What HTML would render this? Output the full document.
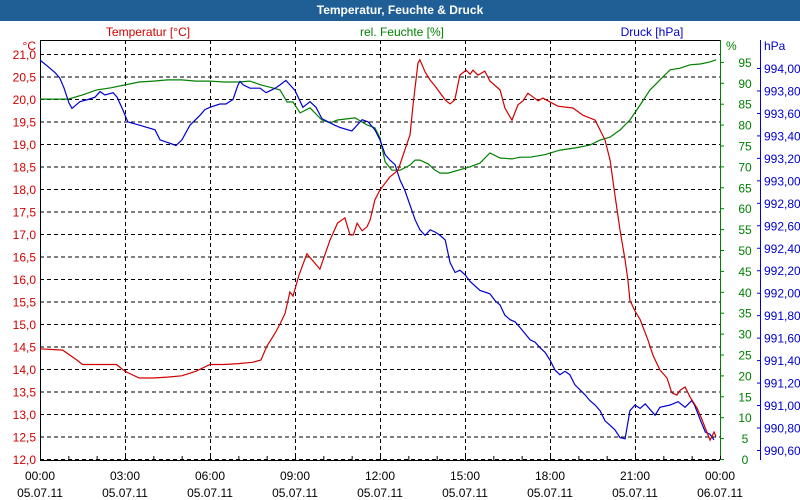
<!DOCTYPE html>
<html><head><meta charset="utf-8"><style>
body{margin:0;background:#fff;}
#wrap{position:relative;width:800px;height:500px;overflow:hidden;font-family:"Liberation Sans",sans-serif;}
#title{position:absolute;left:0;top:0;width:800px;height:21px;background:#1f5f96;color:#fff;font-weight:bold;font-size:12px;text-align:center;line-height:21px;}
svg{position:absolute;left:0;top:0;}
</style></head><body>
<div id="wrap">
<div id="title">Temperatur, Feuchte &amp; Druck</div>
<svg id="chart" width="800" height="500"></svg>
</div>
<script>
const timeTicks=["00:00","03:00","06:00","09:00","12:00","15:00","18:00","21:00","00:00"];
const dateTicks=["05.07.11","05.07.11","05.07.11","05.07.11","05.07.11","05.07.11","05.07.11","05.07.11","06.07.11"];
const tempTicks=[21,20.5,20,19.5,19,18.5,18,17.5,17,16.5,16,15.5,15,14.5,14,13.5,13,12.5,12];
const humTicks=[0,5,10,15,20,25,30,35,40,45,50,55,60,65,70,75,80,85,90,95];
const presTicks=[994,993.8,993.6,993.4,993.2,993,992.8,992.6,992.4,992.2,992,991.8,991.6,991.4,991.2,991,990.8,990.6];
const tempT=[0,0.8,1.3,1.5,2.7,3.0,3.5,4.0,4.5,5.0,5.5,6.0,6.5,7.0,7.5,7.8,8.0,8.3,8.47,8.65,8.82,8.93,9.14,9.42,9.88,10.24,10.5,10.76,10.94,11.06,11.19,11.37,11.54,11.65,11.82,12.0,12.35,12.64,12.88,13.06,13.17,13.34,13.41,13.59,13.77,13.94,14.3,14.47,14.64,14.82,15.04,15.18,15.28,15.46,15.7,15.88,16.24,16.41,16.59,16.66,16.87,17.05,17.22,17.58,17.75,18.28,18.81,19.16,19.59,19.77,19.94,20.12,20.29,20.47,20.65,20.75,20.82,21.0,21.18,21.46,21.64,21.88,22.13,22.3,22.48,22.59,22.77,22.94,23.19,23.37,23.51,23.65,23.79,23.86];
const tempV=[14.45,14.42,14.2,14.1,14.1,13.95,13.8,13.8,13.82,13.85,13.95,14.1,14.1,14.12,14.15,14.2,14.5,14.8,15.0,15.24,15.71,15.62,16.09,16.56,16.22,16.87,17.24,17.36,16.98,16.98,17.24,17.07,17.16,17.31,17.76,17.98,18.27,18.42,18.87,19.2,19.9,20.8,20.87,20.6,20.42,20.29,19.98,19.89,19.98,20.53,20.64,20.55,20.64,20.53,20.62,20.4,20.2,19.8,19.6,19.53,19.87,19.96,20.13,19.96,20.02,19.84,19.8,19.64,19.53,19.31,19.09,18.64,17.87,17.09,16.42,15.98,15.53,15.29,15.1,14.64,14.3,13.98,13.8,13.47,13.42,13.53,13.6,13.38,13.13,12.87,12.64,12.42,12.6,12.5];
const humT=[0,1.0,1.5,2.0,2.5,3.0,3.5,4.0,4.5,5.0,5.5,6.0,6.5,7.0,7.4,7.8,8.2,8.47,8.72,8.93,9.18,9.53,9.95,10.24,10.5,11.12,11.54,11.82,12.0,12.18,12.42,12.71,13.06,13.24,13.41,13.7,13.94,14.12,14.4,15.18,15.53,15.88,16.24,16.66,16.94,17.3,17.82,18.35,18.88,19.41,19.77,20.12,20.47,20.82,21.18,21.53,21.71,21.88,22.24,22.59,22.94,23.3,23.65,23.86];
const humV=[86.1,86.1,87.1,88.3,88.8,89.5,90.2,90.4,90.7,90.7,90.4,90.4,90.2,90.2,90.4,89.5,88.8,88.3,85.4,85.4,82.8,84.0,81.1,80.4,81.1,81.6,79.9,79.2,76.8,71.1,69.1,69.1,70.3,71.5,71.5,70.6,69.1,68.4,68.4,69.9,70.8,73.2,72.0,71.8,72.2,72.2,72.8,73.9,74.4,75.1,76.3,77.0,78.7,81.1,84.7,88.3,89.5,90.7,93.1,93.5,94.3,94.5,95.0,95.5];
const presT=[0,0.25,0.53,0.7,0.85,1.02,1.13,1.41,1.69,1.94,2.12,2.29,2.58,2.72,2.9,3.1,3.53,4.06,4.24,4.59,4.8,5.01,5.29,5.65,5.82,6.0,6.35,6.56,6.81,6.99,7.06,7.17,7.41,7.77,7.98,8.3,8.47,8.68,8.82,9.0,9.28,9.53,9.74,9.95,10.41,10.59,11.01,11.37,11.58,11.82,12.0,12.18,12.35,12.53,12.71,12.88,13.06,13.24,13.41,13.59,13.77,13.94,14.12,14.3,14.47,14.65,14.82,15.0,15.18,15.53,15.88,16.06,16.24,16.41,16.59,16.77,16.94,17.3,17.47,17.65,17.82,18.0,18.18,18.35,18.53,18.7,18.88,19.24,19.41,19.59,19.77,19.94,20.12,20.29,20.47,20.65,20.82,21.0,21.18,21.36,21.71,21.88,22.24,22.52,22.77,23.0,23.1,23.3,23.48,23.65,23.79];
const presV=[994.07,994.02,993.96,993.91,993.82,993.69,993.64,993.70,993.72,993.74,993.79,993.76,993.78,993.74,993.64,993.52,993.49,993.45,993.36,993.33,993.31,993.36,993.49,993.58,993.63,993.65,993.68,993.68,993.72,993.85,993.88,993.85,993.82,993.82,993.78,993.82,993.85,993.89,993.85,993.80,993.65,993.70,993.65,993.55,993.49,993.47,993.44,993.54,993.52,993.45,993.36,993.23,993.18,993.14,993.0,992.91,992.78,992.65,992.56,992.51,992.56,992.54,992.51,992.47,992.27,992.18,992.20,992.16,992.10,992.02,991.99,991.93,991.89,991.80,991.76,991.74,991.69,991.58,991.56,991.51,991.47,991.40,991.31,991.27,991.30,991.27,991.18,991.09,991.04,991.0,990.95,990.86,990.82,990.78,990.71,990.70,990.95,991.0,990.97,991.01,990.91,990.98,991.0,991.03,990.98,991.04,991.0,990.87,990.76,990.74,990.69];

const X0=40,X1=720,YB=459;
const xT=t=>X0+t*(X1-X0)/24;
const yTemp=v=>54+(21-v)*45;
const yHum=v=>YB-v*4.18;
const yPres=v=>68+(994-v)*112.35;
const svg=document.getElementById('chart');
const NS='http://www.w3.org/2000/svg';
function mk(tag,attrs,parent){const e=document.createElementNS(NS,tag);for(const k in attrs)e.setAttribute(k,attrs[k]);(parent||svg).appendChild(e);return e;}
function txt(x,y,s,fill,anchor,size){const e=mk('text',{x:x,y:y,fill:fill,'text-anchor':anchor||'start','font-size':size||12,'font-family':'Liberation Sans, sans-serif'});e.textContent=s;return e;}
const fmt=(v,d)=>v.toFixed(d).replace('.',',');
const RED='#d00000',GRN='#008000',BLU='#0000d0';

// grid
const grid=mk('g',{});


tempTicks.forEach(v=>{const l=mk('line',{x1:X0,x2:X1,y1:yTemp(v)+0.5,y2:yTemp(v)+0.5,stroke:'#000','stroke-dasharray':'4,3','stroke-width':1},grid);

});
timeTicks.forEach((s,i)=>{const x=xT(i*3)+0.5;if(i>0&&i<8){const l=mk('line',{x1:x,x2:x,y1:40,y2:YB,stroke:'#000','stroke-dasharray':'4,3'},grid);

}});
// axes frame
mk('line',{x1:X0+0.5,x2:X0+0.5,y1:40,y2:YB+1,stroke:'#000'});
mk('line',{x1:X0,x2:X1,y1:40.5,y2:40.5,stroke:'#000'});
mk('line',{x1:X0,x2:X1,y1:YB+1.5,y2:YB+1.5,stroke:'#000'});
mk('line',{x1:X1+0.5,x2:X1+0.5,y1:40,y2:YB+1,stroke:GRN});
mk('line',{x1:760.5,x2:760.5,y1:40,y2:YB+1,stroke:BLU});
for(let h=0;h<=24;h++){mk('line',{x1:xT(h)+0.5,x2:xT(h)+0.5,y1:YB+1,y2:YB-3,stroke:'#000'});}

// left axis
txt(36,50,'°C',RED,'end',12);
tempTicks.forEach(v=>{const t=txt(36,yTemp(v)+5,fmt(v,1),RED,'end',12);

});
// humidity axis
txt(726,50,'%',GRN,'start',12);
humTicks.forEach(v=>{mk('line',{x1:X1,x2:X1+4,y1:yHum(v)+0.5,y2:yHum(v)+0.5,stroke:GRN});
const t=txt(745,yHum(v)+5,String(v),GRN,'middle',12);

});
// pressure axis
txt(764,50,'hPa',BLU,'start',12);
presTicks.forEach(v=>{mk('line',{x1:760,x2:757,y1:yPres(v)+0.5,y2:yPres(v)+0.5,stroke:BLU});
const t=txt(764,yPres(v)+5,fmt(v,2),BLU,'start',12);

});
// x axis labels
timeTicks.forEach((s,i)=>{const x=xT(i*3);
const a=txt(x,480,s,'#000','middle',12);


const b=txt(x,497,dateTicks[i],'#000','middle',12);

});
// series titles
const s1=txt(148,36,'Temperatur [°C]',RED,'middle',12);


const s2=txt(402,36,'rel. Feuchte [%]',GRN,'middle',12);


const s3=txt(652,36,'Druck [hPa]',BLU,'middle',12);



function line(ts,vs,fy,col,name){const d=ts.map((t,i)=>(i?'L':'M')+xT(t).toFixed(1)+','+fy(vs[i]).toFixed(1)).join(' ');
const p=mk('path',{d:d,fill:'none',stroke:col,'stroke-width':1.2});

}
line(humT,humV,yHum,GRN,'humidity-line');
line(presT,presV,yPres,BLU,'pressure-line');
line(tempT,tempV,yTemp,RED,'temperature-line');
</script>
</body></html>
